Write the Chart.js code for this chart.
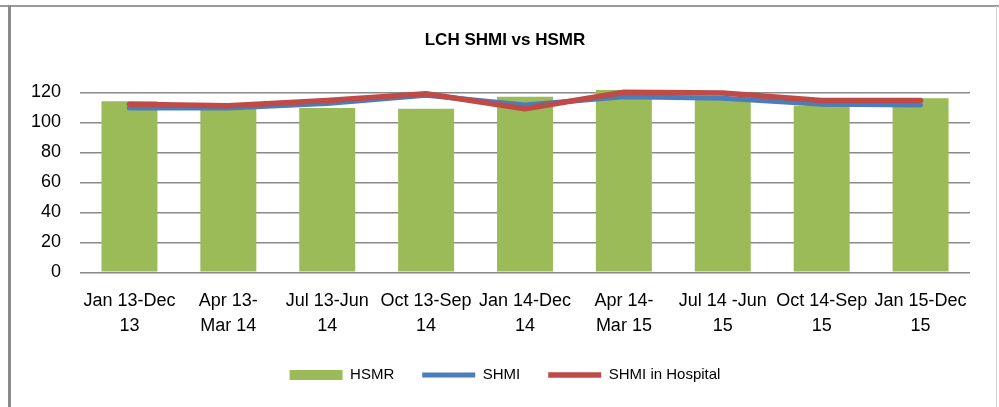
<!DOCTYPE html>
<html>
<head>
<meta charset="utf-8">
<script src="https://cdn.jsdelivr.net/npm/chart.js@4/dist/chart.umd.min.js"></script>
<style>
  html, body { margin: 0; padding: 0; background: #fff; }
  #wrap { position: relative; width: 999px; height: 407px; overflow: hidden; }
  #c { position: absolute; left: 0; top: 0; }
  .topline { position: absolute; left: 0; top: 5px; width: 999px; height: 2px; background: #9a9a9a; }
  .leftbar { position: absolute; left: 8px; top: 5px; width: 3px; height: 402px; background: #8a8a8a; }
  .rightline { position: absolute; left: 996px; top: 6px; width: 1px; height: 401px; background: #d0d0d0; }
</style>
</head>
<body>
<div id="wrap">
  <canvas id="c" width="999" height="407"></canvas>
  <div class="topline"></div>
  <div class="leftbar"></div>
  <div class="rightline"></div>
</div>
<script>
const categories = [
  ["Jan 13-Dec", "13"],
  ["Apr 13-", "Mar 14"],
  ["Jul 13-Jun", "14"],
  ["Oct 13-Sep", "14"],
  ["Jan 14-Dec", "14"],
  ["Apr 14-", "Mar 15"],
  ["Jul 14 -Jun", "15"],
  ["Oct 14-Sep", "15"],
  ["Jan 15-Dec", "15"]
];
const hsmr = [114, 109, 109.5, 109, 117, 121.5, 115, 111, 116];
const shmi = [109.5, 109.5, 112.5, 118, 111.5, 117, 116, 112, 111.5];
const shmiInHospital = [112, 111, 114.5, 119, 109, 120, 119.5, 114.5, 114.5];
const yTicks = [0, 20, 40, 60, 80, 100, 120];

const FONT = "'Liberation Sans', Arial, sans-serif";

new Chart(document.getElementById('c'), {
  type: 'bar',
  data: {
    labels: categories,
    datasets: [
      {
        type: 'bar',
        label: 'HSMR',
        data: hsmr,
        backgroundColor: '#9BBB59',
        borderWidth: 0,
        categoryPercentage: 1,
        barPercentage: 0.566,
        pointStyle: 'rect',
        order: 3,
        clip: false
      },
      {
        type: 'line',
        label: 'SHMI',
        data: shmi,
        borderColor: '#4A7EBB',
        backgroundColor: '#4A7EBB',
        borderWidth: 5,
        borderCapStyle: 'round',
        borderJoinStyle: 'round',
        pointRadius: 0,
        pointHoverRadius: 0,
        pointStyle: 'line',
        tension: 0,
        order: 2,
        clip: false
      },
      {
        type: 'line',
        label: 'SHMI in Hospital',
        data: shmiInHospital,
        borderColor: '#BE4B48',
        backgroundColor: '#BE4B48',
        borderWidth: 5.5,
        borderCapStyle: 'round',
        borderJoinStyle: 'round',
        pointRadius: 0,
        pointHoverRadius: 0,
        pointStyle: 'line',
        tension: 0,
        order: 1,
        clip: false
      }
    ]
  },
  options: {
    responsive: false,
    animation: false,
    layout: { padding: { left: 40, right: 29, top: 0, bottom: 14.5 } },
    plugins: {
      title: {
        display: true,
        text: 'LCH SHMI vs HSMR',
        color: '#000',
        font: { family: FONT, size: 17, weight: 'bold', lineHeight: 1.2 },
        padding: { top: 29.8, bottom: 42.1 }
      },
      legend: {
        position: 'bottom',
        labels: {
          usePointStyle: true,
          pointStyleWidth: 53,
          boxHeight: 10,
          padding: 28,
          color: '#000',
          font: { family: FONT, size: 15 },
          sort: (a, b) => a.datasetIndex - b.datasetIndex
        }
      },
      tooltip: { enabled: false }
    },
    scales: {
      x: {
        grid: { display: false, drawTicks: false },
        border: { display: false },
        ticks: {
          color: '#000',
          padding: 16.5,
          maxRotation: 0,
          autoSkip: false,
          font: { family: FONT, size: 18, lineHeight: 25 / 18 }
        },
        afterFit: (s) => { s.height = 67.2; }
      },
      y: {
        min: 0,
        max: 120,
        afterBuildTicks: (s) => { s.ticks = yTicks.map(v => ({ value: v })); },
        grid: { color: '#898989', lineWidth: 1.6, drawTicks: false },
        border: { display: false },
        ticks: {
          color: '#000',
          padding: 19,
          font: { family: FONT, size: 18 }
        },
        afterFit: (s) => {
          s.width = 40;
          s._computeLabelArea = () => null;
        }
      }
    }
  }
});
</script>
</body>
</html>
